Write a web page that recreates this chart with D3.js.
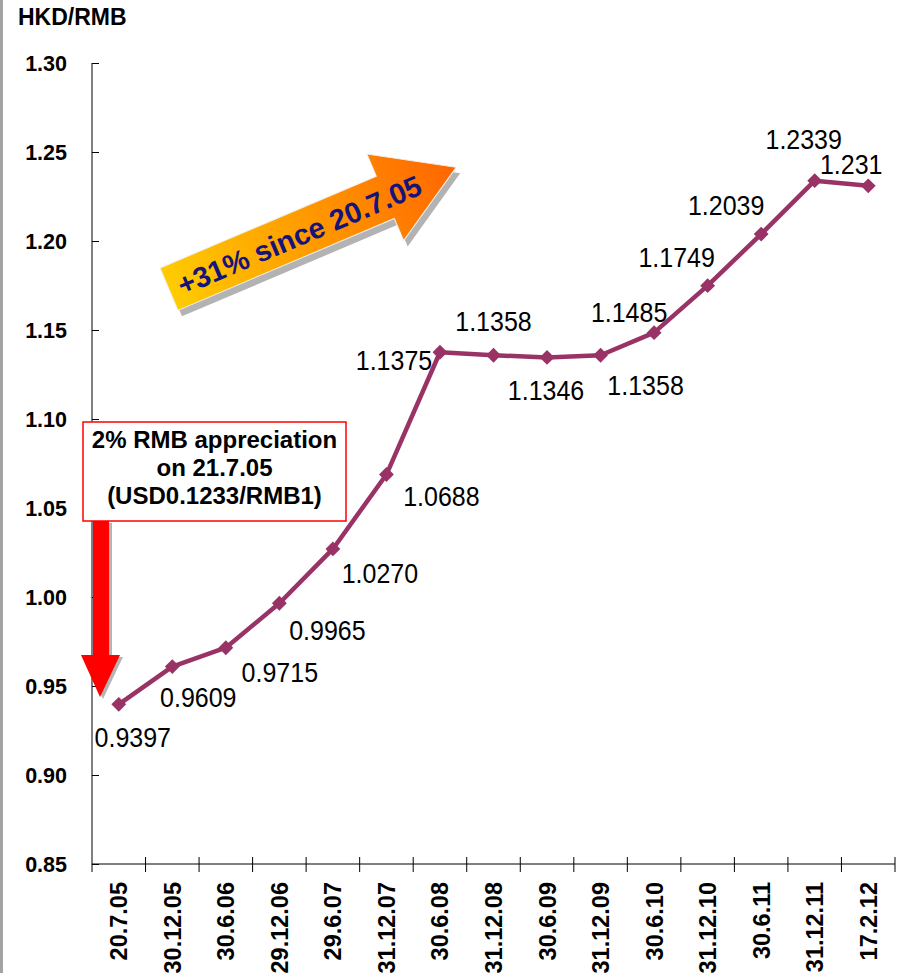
<!DOCTYPE html>
<html>
<head>
<meta charset="utf-8">
<script src="https://cdn.jsdelivr.net/npm/d3@7/dist/d3.min.js"></script>
<style>
  html, body { margin: 0; padding: 0; background: #fff; }
  svg { display: block; font-family: Arial, "Liberation Sans", sans-serif; }
</style>
</head>
<body>
<svg id="chart" width="898" height="973"></svg>
<script>
// HKD per RMB at half-year marks since the July 2005 revaluation
const dates = ["20.7.05", "30.12.05", "30.6.06", "29.12.06", "29.6.07", "31.12.07", "30.6.08",
               "31.12.08", "30.6.09", "31.12.09", "30.6.10", "31.12.10", "30.6.11", "31.12.11", "17.2.12"];
const rates = [0.9397, 0.9609, 0.9715, 0.9965, 1.0270, 1.0688, 1.1375,
               1.1358, 1.1346, 1.1358, 1.1485, 1.1749, 1.2039, 1.2339, 1.231];
const rateDigits = [4, 4, 4, 4, 4, 4, 4, 4, 4, 4, 4, 4, 4, 4, 3];
const yTicks = [0.85, 0.90, 0.95, 1.00, 1.05, 1.10, 1.15, 1.20, 1.25, 1.30];
const boxLines = ["2% RMB appreciation", "on 21.7.05", "(USD0.1233/RMB1)"];
const arrowText = "+31% since 20.7.05";

// label offsets from each marker (centre x, baseline y)
const labelOffsets = [[14, 43], [26, 40], [54, 34], [48, 37], [47, 34], [55, 31], [-46, 18],
                      [0, -24], [-1, 43], [45, 40], [-25, -11], [-31, -19], [-35, -19], [-11, -32], [-17, -12]];

const svg = d3.select("#chart");
const plotL = 92, plotR = 895, plotT = 63, plotB = 864;

// frame edge on the left
svg.append("rect").attr("x", 0).attr("y", 0).attr("width", 3).attr("height", 973).attr("fill", "#a3a3a3");

const x = d3.scaleBand().domain(dates).range([plotL, plotR]).paddingInner(0).paddingOuter(0);
const y = d3.scaleLinear().domain([0.85, 1.30]).range([plotB, plotT]);

// y axis
const yAxis = svg.append("g").attr("transform", `translate(${plotL},0)`)
  .call(d3.axisRight(y).tickValues(yTicks).tickSize(7).tickFormat(""));
yAxis.select(".domain").attr("d", `M0,${plotT}V${plotB + 8}`).attr("stroke", "#000");
yAxis.selectAll(".tick line").attr("stroke", "#000");
svg.append("g").selectAll("text").data(yTicks).join("text")
  .attr("x", 67).attr("y", d => y(d)).attr("dy", "0.36em")
  .attr("text-anchor", "end").attr("font-size", 21.5).attr("font-weight", "bold")
  .text(d => d.toFixed(2));

// x axis with ticks on category boundaries
const xg = svg.append("g");
xg.append("line").attr("x1", plotL).attr("x2", plotR).attr("y1", plotB).attr("y2", plotB).attr("stroke", "#000");
const bounds = dates.map(d => x(d)).concat([x.range()[1]]);
xg.selectAll("line.tk").data(bounds.slice(1)).join("line").attr("class", "tk")
  .attr("x1", d => d).attr("x2", d => d).attr("y1", plotB - 7).attr("y2", plotB + 8).attr("stroke", "#000");
xg.selectAll("text").data(dates).join("text")
  .attr("transform", d => `translate(${x(d) + x.bandwidth() / 2},882) rotate(-90)`)
  .attr("dy", "0.36em").attr("text-anchor", "end")
  .attr("font-size", 23.5).attr("font-weight", "bold").text(d => d);

// axis title
svg.append("text").attr("x", 18).attr("y", 25).attr("font-size", 23).attr("font-weight", "bold").text("HKD/RMB");

// series
const pts = rates.map((v, i) => ({v, i, px: x(dates[i]) + x.bandwidth() / 2, py: y(v)}));
svg.append("path").datum(pts)
  .attr("d", d3.line().x(d => d.px).y(d => d.py))
  .attr("fill", "none").attr("stroke", "#993366").attr("stroke-width", 4.5).attr("stroke-linejoin", "round");
svg.append("g").selectAll("path").data(pts).join("path")
  .attr("d", d3.symbol(d3.symbolSquare, 110))
  .attr("transform", d => `translate(${d.px},${d.py}) rotate(45)`)
  .attr("fill", "#993366");
svg.append("g").selectAll("text").data(pts).join("text")
  .attr("transform", d => `translate(${d.px + labelOffsets[d.i][0]},${d.py + labelOffsets[d.i][1]}) scale(1,1.1)`)
  .attr("text-anchor", "middle").attr("font-size", 25).attr("fill", "#000")
  .text(d => d.v.toFixed(rateDigits[d.i]));

// red down arrow with shadow
const redArrow = "M93,521 H109 V655 H120 L100,697 L81,655 H93 Z";
svg.append("path").attr("d", redArrow).attr("fill", "#b5b5b5").attr("transform", "translate(3,2)");
svg.append("path").attr("d", redArrow).attr("fill", "#ff0000");

// annotation box
svg.append("rect").attr("x", 83).attr("y", 422).attr("width", 263).attr("height", 99)
  .attr("fill", "#fff").attr("stroke", "#ff0000").attr("stroke-width", 1.5);
svg.append("g").selectAll("text").data(boxLines).join("text")
  .attr("x", 214.5).attr("y", (d, i) => 448 + i * 28)
  .attr("text-anchor", "middle").attr("font-size", 24).attr("font-weight", "bold").text(d => d);

// growth arrow
const defs = svg.append("defs");
const grad = defs.append("linearGradient").attr("id", "growth")
  .attr("gradientUnits", "userSpaceOnUse").attr("x1", 0).attr("y1", 0).attr("x2", 312).attr("y2", 0);
grad.append("stop").attr("offset", 0).attr("stop-color", "#ffcc00");
grad.append("stop").attr("offset", 1).attr("stop-color", "#ff6600");
const bigArrow = "M0,0 H235 V-24 L312,23 L235,70 V46 H0 Z";
svg.append("path").attr("d", bigArrow).attr("fill", "#b3b3b3")
  .attr("transform", "translate(164,274) rotate(-23)");
const ag = svg.append("g").attr("transform", "translate(160,268) rotate(-23)");
ag.append("path").attr("d", bigArrow).attr("fill", "url(#growth)").attr("stroke", "#f0f0f0").attr("stroke-width", 1);
ag.append("text").attr("x", 141).attr("y", 24).attr("dy", "0.36em").attr("text-anchor", "middle")
  .attr("font-size", 29).attr("font-weight", "bold").attr("fill", "#14147a").text(arrowText);
</script>
</body>
</html>
